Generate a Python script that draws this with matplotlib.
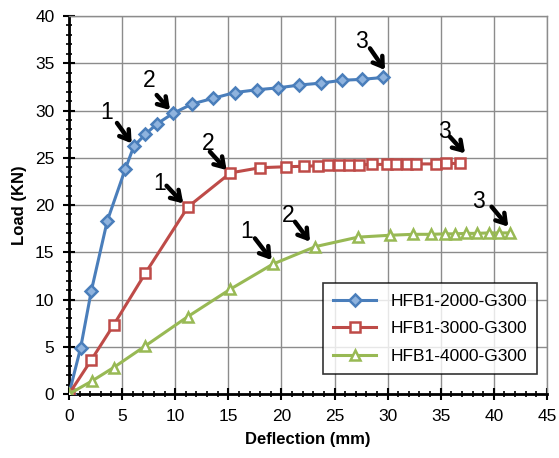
import matplotlib
matplotlib.use("Agg")
import matplotlib.pyplot as plt
from matplotlib.ticker import MultipleLocator

# Data
b_x = [0, 1.1, 2.1, 3.6, 5.3, 6.1, 7.2, 8.3, 9.8, 11.6, 13.6, 15.6, 17.7, 19.7, 21.7, 23.7, 25.7, 27.6, 29.6]
b_y = [0, 4.9, 10.9, 18.3, 23.8, 26.2, 27.5, 28.6, 29.7, 30.7, 31.3, 31.9, 32.2, 32.4, 32.7, 32.9, 33.2, 33.3, 33.5]

r_x = [0, 2.1, 4.2, 7.2, 11.2, 15.2, 18.0, 20.4, 22.1, 23.4, 24.4, 25.4, 26.4, 27.3, 28.5, 29.9, 30.8, 31.8, 32.7, 34.6, 35.5, 36.8]
r_y = [0, 3.6, 7.3, 12.8, 19.8, 23.4, 23.95, 24.05, 24.1, 24.15, 24.2, 24.2, 24.25, 24.25, 24.3, 24.3, 24.3, 24.35, 24.35, 24.35, 24.4, 24.4]

g_x = [0, 2.2, 4.2, 7.2, 11.2, 15.2, 19.2, 23.2, 27.2, 30.2, 32.4, 34.1, 35.4, 36.3, 37.4, 38.4, 39.5, 40.5, 41.5]
g_y = [0, 1.4, 2.8, 5.1, 8.2, 11.1, 13.75, 15.6, 16.6, 16.8, 16.9, 16.9, 16.95, 16.95, 17.0, 17.0, 17.05, 17.05, 17.05]

labels = ["HFB1-2000-G300", "HFB1-3000-G300", "HFB1-4000-G300"]

# annotations: (text, text_xy, arrow_tail_xy, arrow_head_xy)
annots = [
    ("1", (3.58, 29.84), (4.52, 28.68), (5.90, 26.53)),
    ("2", (7.56, 33.23), (8.26, 31.64), (9.51, 30.05)),
    ("3", (27.55, 37.28), (28.34, 36.58), (29.75, 34.29)),
    ("1", (8.57, 22.29), (9.19, 22.04), (10.76, 20.17)),
    ("2", (13.11, 26.52), (13.27, 25.64), (14.84, 23.70)),
    ("3", (35.40, 27.75), (35.87, 27.22), (37.29, 25.47)),
    ("1", (16.73, 17.17), (17.51, 16.47), (19.08, 14.18)),
    ("2", (20.65, 18.94), (21.28, 18.23), (22.69, 16.12)),
    ("3", (38.53, 20.34), (39.79, 19.82), (41.36, 17.71)),
]

fig = plt.figure(figsize=(5.59, 4.58), dpi=100)
ax = fig.add_axes([0.1234, 0.1397, 0.855, 0.8253])

font = "Liberation Sans"

blue = "#4a7ebb"
red = "#be4b48"
green = "#98b954"

ax.plot(b_x, b_y, color=blue, lw=2.2, marker="D", ms=6, mfc="#8fb3de", mec=blue, mew=1.8, label=labels[0], zorder=3)
ax.plot(r_x, r_y, color=red, lw=2.2, marker="s", ms=7, mfc="white", mec=red, mew=1.8, label=labels[1], zorder=3)
ax.plot(g_x, g_y, color=green, lw=2.2, marker="^", ms=7, mfc="white", mec=green, mew=1.8, label=labels[2], zorder=3)

for t, txy, tail, head in annots:
    ax.text(txy[0], txy[1], t, fontsize=16.5, family=font, ha="center", va="center", zorder=5)
    ax.annotate("", xy=head, xytext=tail,
                arrowprops=dict(arrowstyle="->,head_length=0.65,head_width=0.42", lw=3.2, color="black",
                                shrinkA=0, shrinkB=0), zorder=5)

ax.set_xlim(0, 45)
ax.set_ylim(0, 40)
ax.xaxis.set_major_locator(MultipleLocator(5))
ax.yaxis.set_major_locator(MultipleLocator(5))
ax.xaxis.set_minor_locator(MultipleLocator(1))
ax.yaxis.set_minor_locator(MultipleLocator(1))
ax.grid(True, which="major", color="#8c8c8c", lw=1)
ax.set_axisbelow(True)

for s in ["top", "right"]:
    ax.spines[s].set_color("#8c8c8c")
    ax.spines[s].set_linewidth(1)
for s in ["left", "bottom"]:
    ax.spines[s].set_color("black")
    ax.spines[s].set_linewidth(2)

ax.tick_params(which="major", direction="inout", length=9, width=1.5, labelsize=12.5, pad=6)
ax.tick_params(which="minor", direction="inout", length=5, width=1.2)
for lbl in ax.get_xticklabels() + ax.get_yticklabels():
    lbl.set_family(font)

ax.set_xlabel("Deflection (mm)", fontsize=12, fontweight="bold", family=font, labelpad=6)
ax.set_ylabel("Load (KN)", fontsize=12, fontweight="bold", family=font, labelpad=6)

leg = ax.legend(loc="lower right", bbox_to_anchor=(0.998, 0.03),
                prop={"family": font, "size": 12.5}, frameon=True, fancybox=False,
                edgecolor="black", handlelength=2.5, labelspacing=0.7, borderpad=0.6)
leg.get_frame().set_linewidth(1.2)

fig.savefig("out.png", dpi=100)
